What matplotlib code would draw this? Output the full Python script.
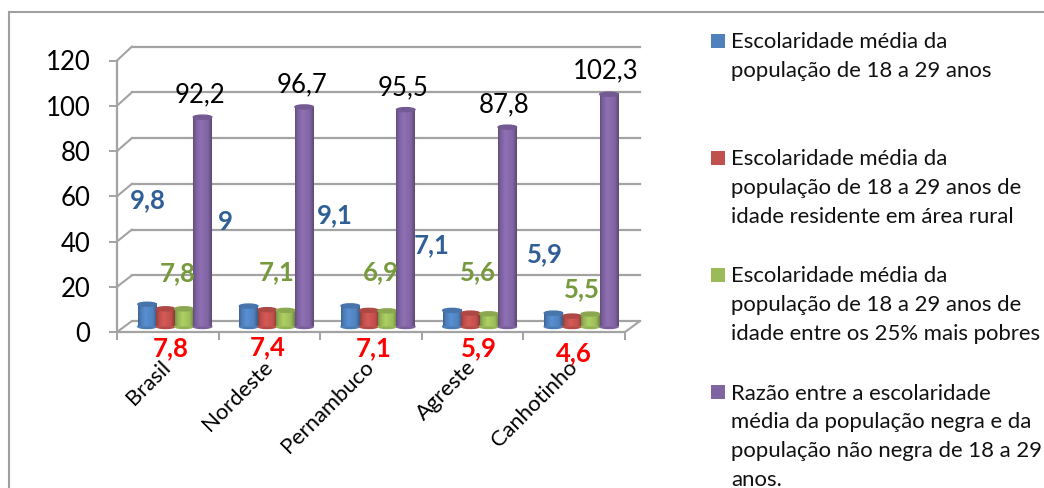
import numpy as np
import matplotlib
matplotlib.use("Agg")
import matplotlib.pyplot as plt
from matplotlib.patches import Ellipse, Rectangle, ConnectionPatch

categories = ["Brasil", "Nordeste", "Pernambuco", "Agreste", "Canhotinho"]
escolaridade = [9.8, 9, 9.1, 7.1, 5.9]
rural = [7.8, 7.4, 7.1, 5.9, 4.6]
pobres = [7.8, 7.1, 6.9, 5.6, 5.5]
razao = [92.2, 96.7, 95.5, 87.8, 102.3]
y_ticks = [0, 20, 40, 60, 80, 100, 120]
legend_labels = [
    "Escolaridade média da\npopulação de 18 a 29 anos",
    "Escolaridade média da\npopulação de 18 a 29 anos de\nidade residente em área rural",
    "Escolaridade média da\npopulação de 18 a 29 anos de\nidade entre os 25% mais pobres",
    "Razão entre a escolaridade\nmédia da população negra e da\npopulação não negra de 18 a 29\nanos.",
]

series = [escolaridade, rural, pobres, razao]
colors = ["#4F81BD", "#C0504D", "#9BBB59", "#8064A2"]
label_colors = ["#2F5F96", "#FF0000", "#769A3C", "#000000"]
label_weights = ["bold", "bold", "bold", "normal"]
# pixel placement of the data labels: (centre x, baseline y)
label_xy = [
    [(148, 208), (225, 230), (335, 223), (432, 253), (545, 262)],
    [(171, 356), (268, 355), (374, 356), (479, 356), (574, 361)],
    [(178, 281), (277, 280), (381, 280), (478, 280), (582, 297)],
    [(200, 102), (302, 92), (403, 95), (504, 112), (606, 78)],
]
legend_swatch_y = [34, 151, 268, 385]
legend_last_baseline = [77, 223, 340, 486]

plt.rcParams["font.family"] = ["Lato", "DejaVu Sans"]
W, H = 1044, 488
fig = plt.figure(figsize=(W / 100, H / 100), dpi=100, facecolor="white")


def make_axes(x0, x1, ytop, ybase, z):
    a = fig.add_axes([x0 / W, 1 - ybase / H, (x1 - x0) / W, (ybase - ytop) / H], zorder=z)
    a.patch.set_alpha(0)
    a.set_xlim(-0.5, 4.5)
    a.set_ylim(0, 120)
    return a


GRID = "#a3a3a3"
ax_back = make_axes(132, 640, 46.5, 321, 1)
ax_back.axis("off")
for v in y_ticks:
    ax_back.axhline(v, color=GRID, lw=1.6, clip_on=False)

ax_bars = make_axes(124, 632, 54, 326.5, 2)
ax_bars.axis("off")
bw = 0.182
shade = np.interp(np.linspace(0, 1, 40), [0, 0.12, 0.4, 0.8, 1], [0.78, 0.95, 1.12, 1.0, 0.72])
for i, (vals, c) in enumerate(zip(series, colors)):
    rgb = np.array(matplotlib.colors.to_rgb(c))
    grad = np.clip(shade[None, :, None] * rgb[None, None, :], 0, 1)
    xs = np.arange(5) + (i - 1.5) * bw
    bars = ax_bars.bar(xs, vals, bw, color=c, zorder=3 + i)
    for x, v in zip(xs, vals):
        ax_bars.imshow(grad, extent=[x - bw / 2, x + bw / 2, 0, v], aspect="auto",
                       zorder=3 + i, interpolation="bilinear")
        h = 4 / 2.26
        ax_bars.add_patch(Ellipse((x, 0), bw, h, color=tuple(rgb * 0.95), zorder=3 + i - 0.1, clip_on=False))
        ax_bars.add_patch(Ellipse((x, v), bw, h, color=tuple(np.clip(rgb * 0.9, 0, 1)), zorder=3 + i + 0.1))
ax_bars.set_xlim(-0.5, 4.5)
ax_bars.set_ylim(0, 120)

ax = make_axes(117, 625, 60.5, 332, 3)
for s in ["top", "right"]:
    ax.spines[s].set_visible(False)
for s in ["left", "bottom"]:
    ax.spines[s].set_color(GRID)
    ax.spines[s].set_linewidth(1.6)
ax.set_yticks(y_ticks)
ax.tick_params(axis="y", length=6, width=1.4, color=GRID, pad=13, labelsize=18.5, labelcolor="#000000")
ax.set_xticks(np.arange(-0.5, 5, 1))
ax.set_xticklabels([])
ax.tick_params(axis="x", which="major", length=6, width=1.4, color=GRID)
ax.set_xticks(np.arange(5), minor=True)
ax.set_xticklabels(categories, minor=True, rotation=45, ha="right", va="center",
                   rotation_mode="anchor", fontsize=15.8, color="black")
ax.tick_params(axis="x", which="minor", length=0, pad=23)

# depth lines joining the front axis to the back wall
for v in y_ticks:
    fig.add_artist(ConnectionPatch((-0.5, v), (-0.5, v), "data", "data", axesA=ax, axesB=ax_back,
                                   color=GRID, lw=1.5, zorder=1))
fig.add_artist(ConnectionPatch((4.5, 0), (4.5, 0), "data", "data", axesA=ax, axesB=ax_back,
                               color=GRID, lw=1.5, zorder=1))

over = fig.add_axes([0, 0, 1, 1], zorder=10)
over.patch.set_alpha(0)
over.set_xlim(0, W)
over.set_ylim(H, 0)
over.axis("off")
over.plot([8.5, 8.5, W], [H, 12, 12], color="#a0a0a0", lw=1.5, solid_joinstyle="miter")

for vals, xy, c, w in zip(series, label_xy, label_colors, label_weights):
    for v, (x, y) in zip(vals, xy):
        over.text(x, y, f"{v:g}".replace(".", ","), color=c, fontweight=w, fontsize=18.5,
                  ha="center", va="baseline")

for lab, c, sy, by in zip(legend_labels, colors, legend_swatch_y, legend_last_baseline):
    over.add_patch(Rectangle((711, sy), 14, 14, color=c, lw=0))
    over.text(731, by, lab, fontsize=15.9, color="#111111", ha="left", va="baseline", linespacing=1.55)

fig.savefig("out.png", dpi=100)
